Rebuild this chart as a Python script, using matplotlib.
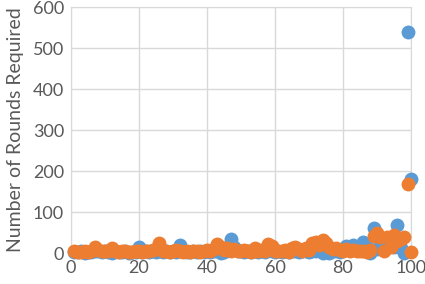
import matplotlib
matplotlib.use("Agg")
import matplotlib.pyplot as plt

# x positions 1..100 for both series
x_vals = list(range(1, 101))

blue_vals = [3, 2, 4, 1, 3, 2, 5, 6, 3, 4, 2, 0, 5, 3, 2, 4, 1, 3, 2, 15,
             3, 4, 2, 5, 3, 6, 2, 4, 3, 5, 2, 20, 4, 3, 2, 5, 3, 4, 2, 6,
             3, 5, 4, 0, 3, 8, 35, 15, 6, 4, 3, 5, 2, 4, 3, 6, 2, 10, 5, 3,
             4, 2, 5, 3, 4, 6, 3, 5, 4, 2, 6, 5, 8, 0, 5, 0, 4, 6, 3, 8,
             18, 10, 20, 8, 12, 28, 15, 0, 60, 10, 22, 18, 30, 25, 15, 68, 12, 0, 540, 180]

orange_vals = [5, 3, 2, 4, 3, 6, 15, 8, 5, 6, 4, 12, 5, 3, 4, 6, 3, 2, 5, 4,
               3, 6, 5, 8, 10, 25, 6, 4, 3, 5, 8, 4, 3, 5, 2, 4, 6, 3, 5, 8,
               6, 10, 22, 15, 8, 12, 6, 10, 5, 4, 8, 6, 3, 12, 5, 8, 4, 22, 18, 6,
               4, 5, 8, 3, 12, 15, 10, 6, 12, 8, 25, 28, 20, 32, 25, 15, 10, 12, 8, 6,
               10, 5, 8, 6, 4, 5, 3, 8, 42, 50, 40, 5, 38, 15, 45, 30, 35, 40, 168, 2]

x_ticks = [0, 20, 40, 60, 80, 100]
y_ticks = [0, 100, 200, 300, 400, 500, 600]

plt.rcParams['font.family'] = ['Lato', 'DejaVu Sans']

fig = plt.figure(figsize=(4.25, 2.84), dpi=100)
ax = fig.add_axes([0.167, 0.109, 0.8, 0.866])

ax.scatter(x_vals, blue_vals, s=100, color="#5B9BD5", zorder=3, linewidths=0, clip_on=False)
ax.scatter(x_vals, orange_vals, s=100, color="#ED7D31", zorder=4, linewidths=0, clip_on=False)

ax.set_xlim(0, 100)
ax.set_ylim(0, 600)
ax.set_xticks(x_ticks)
ax.set_yticks(y_ticks)
ax.grid(True, color="#D9D9D9", linewidth=1)
ax.set_axisbelow(True)
for sp in ax.spines.values():
    sp.set_color("#D9D9D9")
ax.tick_params(length=0, labelsize=13, colors="#595959", pad=5)
ax.set_ylabel("Number of Rounds Required", fontsize=14, color="#595959", labelpad=6)

fig.savefig("out.png", dpi=100)
